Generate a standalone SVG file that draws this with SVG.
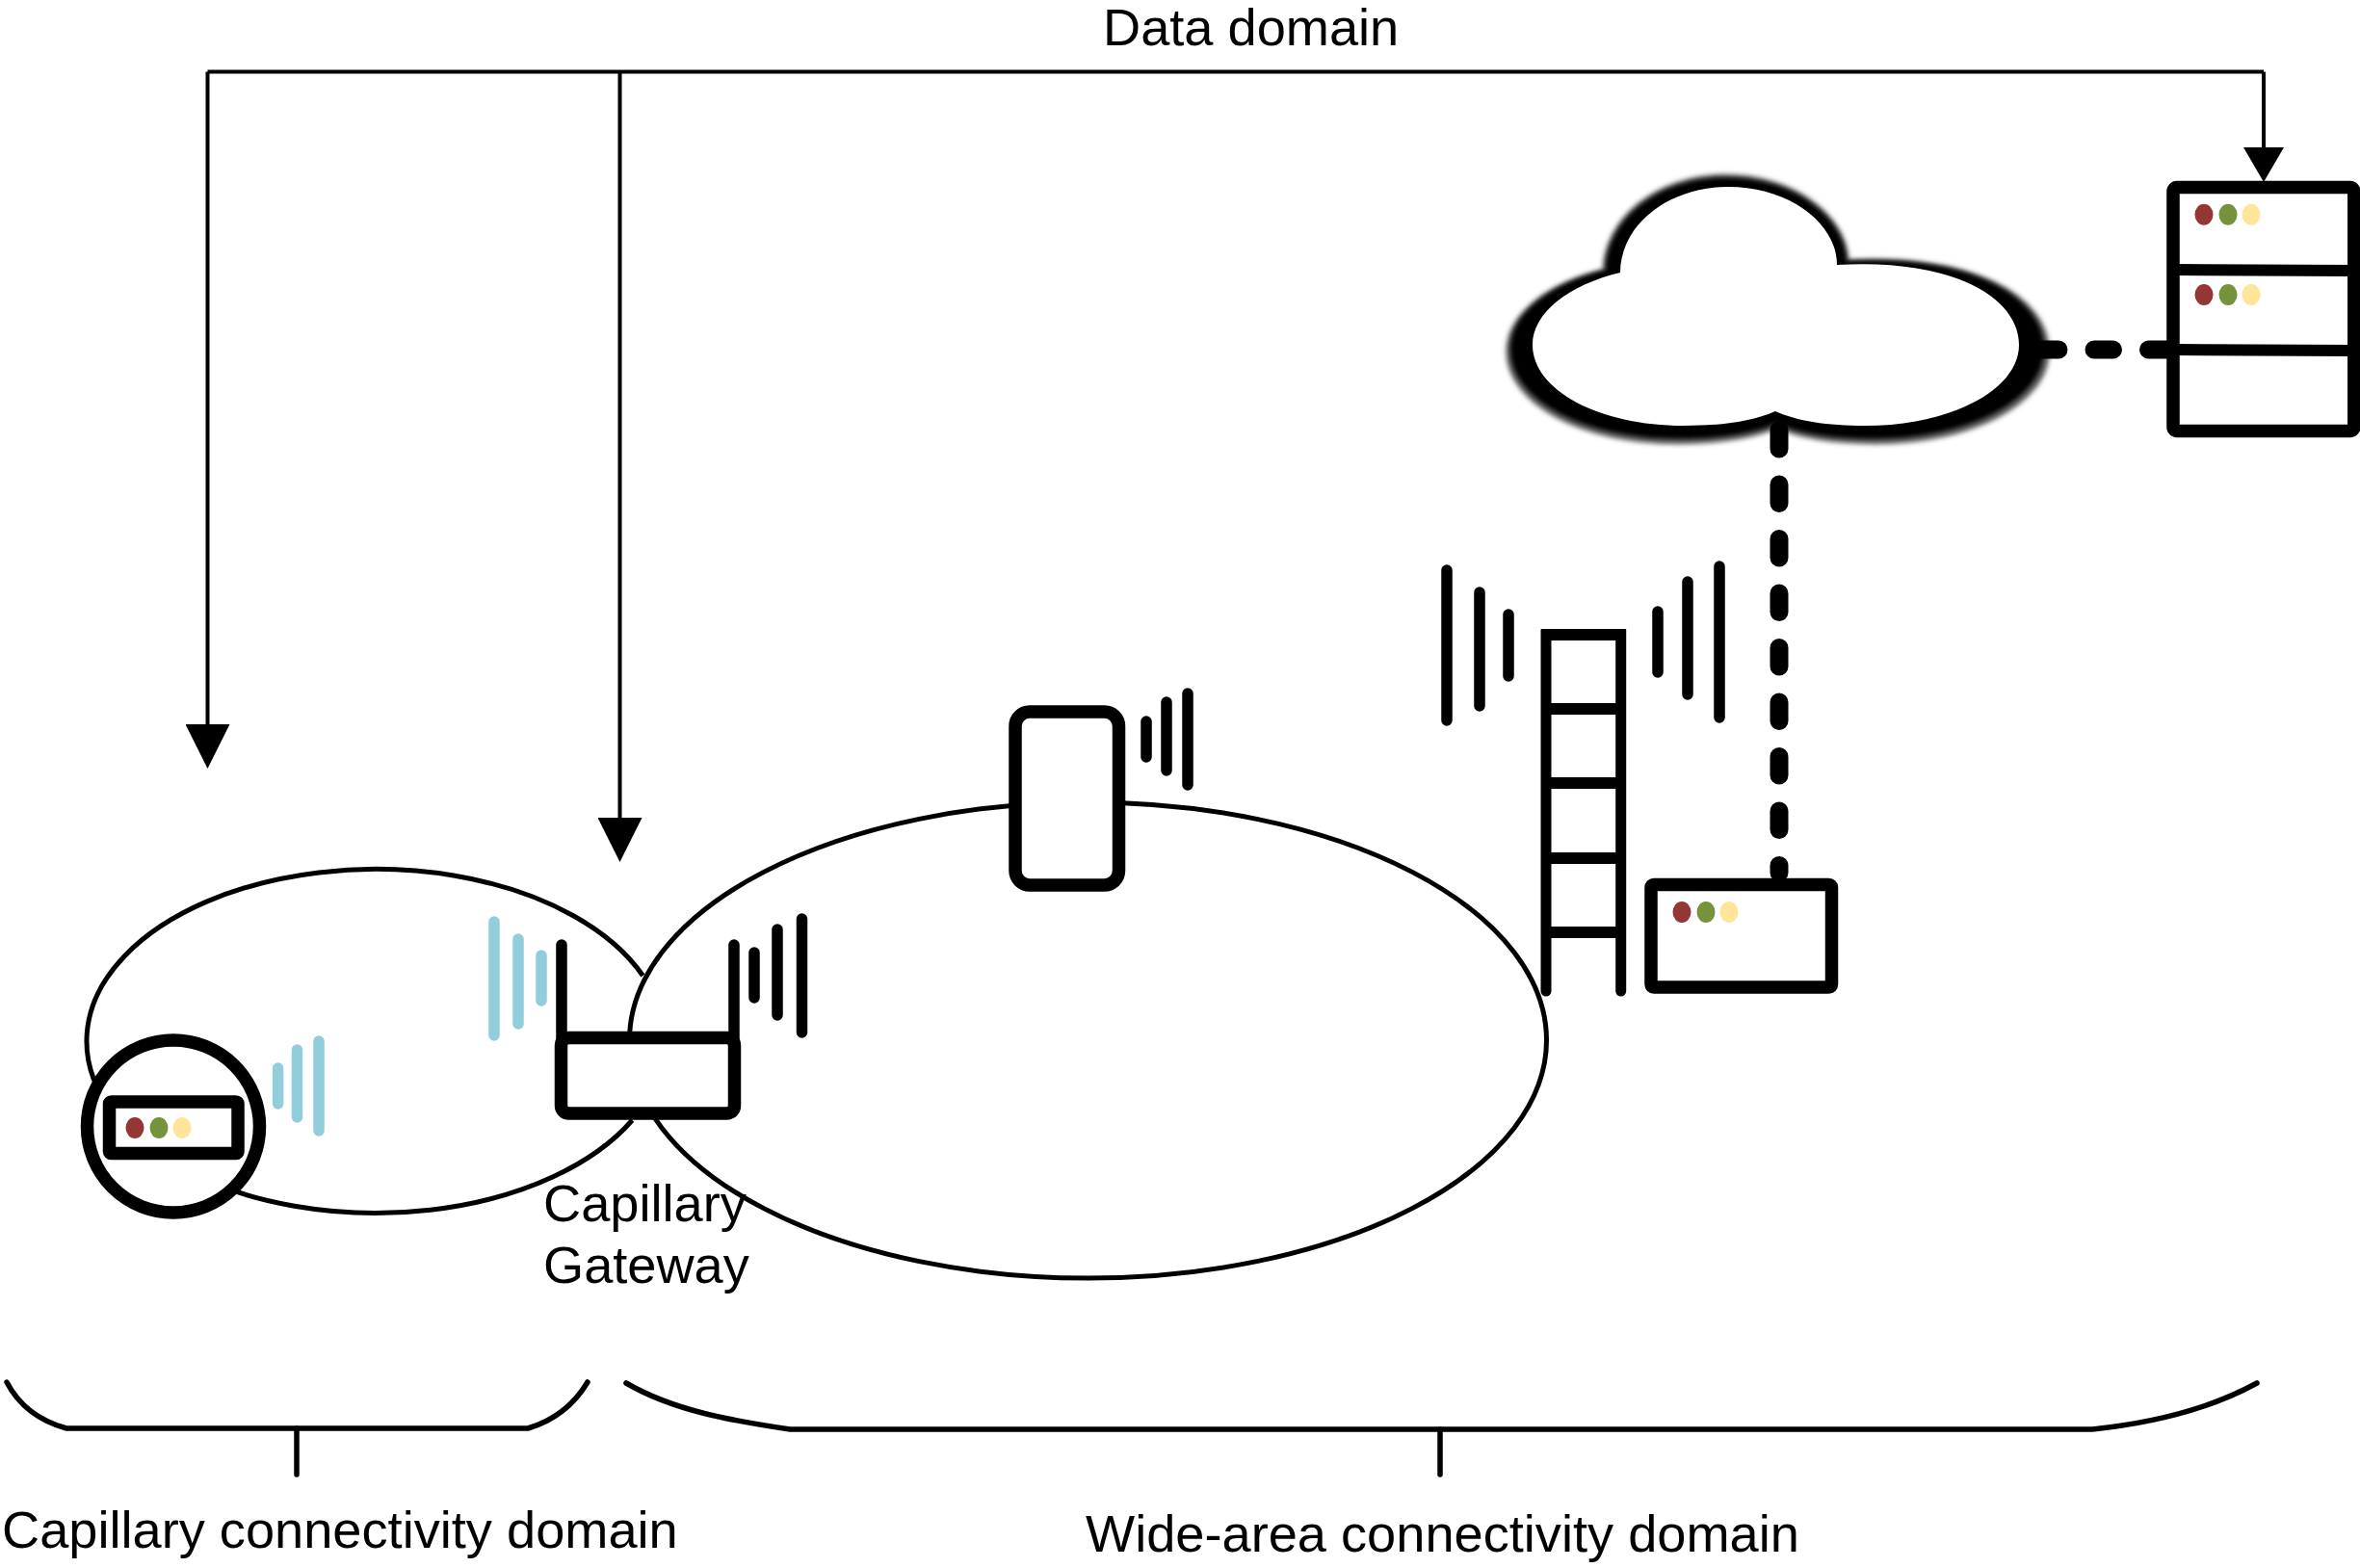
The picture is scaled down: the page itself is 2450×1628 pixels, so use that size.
<svg xmlns="http://www.w3.org/2000/svg" width="2450" height="1628" viewBox="0 0 2450 1628">
  <style>
    text { font-family: "Liberation Sans", Arial, sans-serif; font-size: 54.2px; fill: #000; }
    .domain { fill: none; stroke: #000; stroke-width: 5; }
    .frame { fill: #fff; stroke: #000; stroke-width: 13.5; stroke-linejoin: round; }
    .bar { stroke-width: 11.5; stroke-linecap: round; fill: none; }
    .k { stroke: #000; }
    .b { stroke: #92cddc; }
    .rung { stroke: #000; stroke-width: 12; fill: none; }
    .leg { stroke: #000; stroke-width: 11; stroke-linecap: round; fill: none; }
    .red { fill: #943634; }
    .green { fill: #76923c; }
    .yellow { fill: #ffe599; }
    .thin { fill: none; stroke: #000; stroke-width: 4; }
    .brace { fill: none; stroke: #000; stroke-width: 5.5; stroke-linecap: round; stroke-linejoin: round; }
    .link { fill: none; stroke: #000; stroke-width: 19; stroke-linecap: round; stroke-dasharray: 19.5 37; }
  </style>
  <defs>
    <marker id="head" markerUnits="userSpaceOnUse" markerWidth="46" markerHeight="46" refX="23" refY="10" orient="0" viewBox="0 0 46 46">
      <path d="M0 0H46L23 46Z" fill="#000"/>
    </marker>
    <marker id="headSmall" markerUnits="userSpaceOnUse" markerWidth="42" markerHeight="36" refX="21" refY="10" orient="0" viewBox="0 0 42 36">
      <path d="M0 0H42L21 36Z" fill="#000"/>
    </marker>
    <filter id="soft" x="-10%" y="-10%" width="120%" height="120%">
      <feGaussianBlur stdDeviation="2.2"/>
    </filter>
    <path id="cloudShape" d="M1682 283C1682 235 1730 194 1794 194C1858 194 1907 232 1907 275C2030 268 2096 310 2096 358C2096 405 2025 442 1936 442C1897 442 1865 437 1843 427C1820 437 1790 442 1748 442C1660 442 1591 405 1591 358C1591 325 1628 296 1682 283Z"/>
  </defs>

  <g id="domains">
    <path class="domain" d="M667.4 1013A300 178.5 0 1 0 656.4 1163"/>
    <ellipse class="domain" cx="1129.5" cy="1080" rx="476" ry="247"/>
  </g>

  <g id="cloud">
    <use href="#cloudShape" fill="#555" stroke="#555" stroke-width="8" transform="translate(1845.5 321) scale(1.1 1.095) translate(-1843.5 -318)" filter="url(#soft)"/>
    <use href="#cloudShape" fill="#000" stroke="#000" stroke-width="5" transform="translate(1845 320) scale(1.085 1.07) translate(-1843.5 -318)" filter="url(#soft)"/>
    <use href="#cloudShape" fill="#fff"/>
  </g>

  <g id="connectors">
    <path class="thin" d="M215.500 74.500H2350"/>
    <path class="thin" d="M215.500 74.500V762" marker-end="url(#head)"/>
    <path class="thin" d="M643.500 74.500V859" marker-end="url(#head)"/>
    <path class="thin" d="M2350 74.500V163" marker-end="url(#headSmall)"/>
    <path class="link" d="M1847 446.500V906"/>
    <path class="link" d="M2117.500 363H2252"/>
  </g>

  <g id="server">
    <rect x="2256" y="194.500" width="187.800" height="253" rx="4" class="frame"/>
    <path class="rung" d="M2256 280L2444 281M2256 363L2444 364"/>
    <ellipse class="red" cx="2288" cy="222.700" rx="9.500" ry="11"/>
    <ellipse class="green" cx="2313" cy="222.700" rx="9.500" ry="11"/>
    <ellipse class="yellow" cx="2337" cy="222.700" rx="9.500" ry="11"/>
    <ellipse class="red" cx="2288" cy="306" rx="9.500" ry="11"/>
    <ellipse class="green" cx="2313" cy="306" rx="9.500" ry="11"/>
    <ellipse class="yellow" cx="2337" cy="306" rx="9.500" ry="11"/>
  </g>

  <g id="tower">
    <path class="leg" d="M1605 1029V659H1682.700V1029"/>
    <path class="rung" d="M1600 659H1688M1600 736H1688M1600 813H1688M1600 891H1688M1600 968H1688"/>
    <path class="bar k" d="M1502 592V748M1536 615V733M1566 638V702M1721 635V698M1752 604V721M1785 588V745"/>
  </g>

  <g id="base-station">
    <rect x="1714" y="918.500" width="187.500" height="106.500" rx="3" class="frame"/>
    <ellipse class="red" cx="1746" cy="947" rx="9.500" ry="11"/>
    <ellipse class="green" cx="1771" cy="947" rx="9.500" ry="11"/>
    <ellipse class="yellow" cx="1795" cy="947" rx="9.500" ry="11"/>
  </g>

  <g id="phone">
    <rect x="1054" y="739" width="107.500" height="180" rx="15" class="frame"/>
    <path class="bar k" d="M1190 749V786M1211 729V800M1233 720V815"/>
  </g>

  <g id="gateway">
    <path class="bar k" d="M583 981V1080M762 981V1080"/>
    <rect x="582.500" y="1077.500" width="180" height="78.500" rx="8" class="frame"/>
    <path class="bar b" d="M513 957V1075M538 975V1063M562 992V1039"/>
    <path class="bar k" d="M783 989V1036M807 965V1054M832.500 954V1072"/>
    <text x="564" y="1268">Capillary</text>
    <text x="564" y="1332">Gateway</text>
  </g>

  <g id="sensor">
    <circle cx="180" cy="1169.500" r="89.500" class="frame"/>
    <rect x="113.500" y="1144" width="133.500" height="53.500" rx="2" class="frame"/>
    <ellipse class="red" cx="140" cy="1171" rx="9.500" ry="11"/>
    <ellipse class="green" cx="165" cy="1171" rx="9.500" ry="11"/>
    <ellipse class="yellow" cx="189" cy="1171" rx="9.500" ry="11"/>
    <path class="bar b" d="M288.600 1109V1146M308.500 1090V1160M331 1081V1174"/>
  </g>

  <g id="labels">
    <text x="1145" y="46.500">Data domain</text>
    <path class="brace" d="M7 1435C20 1460 40 1475 69 1483H548C575 1475 595 1460 610 1435"/>
    <path class="brace" d="M308 1483V1531"/>
    <text x="2" y="1607">Capillary connectivity domain</text>
    <path class="brace" d="M650 1436C700 1465 760 1475 820 1484H2172C2230 1478 2290 1465 2343 1436"/>
    <path class="brace" d="M1495 1484V1531"/>
    <text x="1127" y="1610.500">Wide-area connectivity domain</text>
  </g>
</svg>
